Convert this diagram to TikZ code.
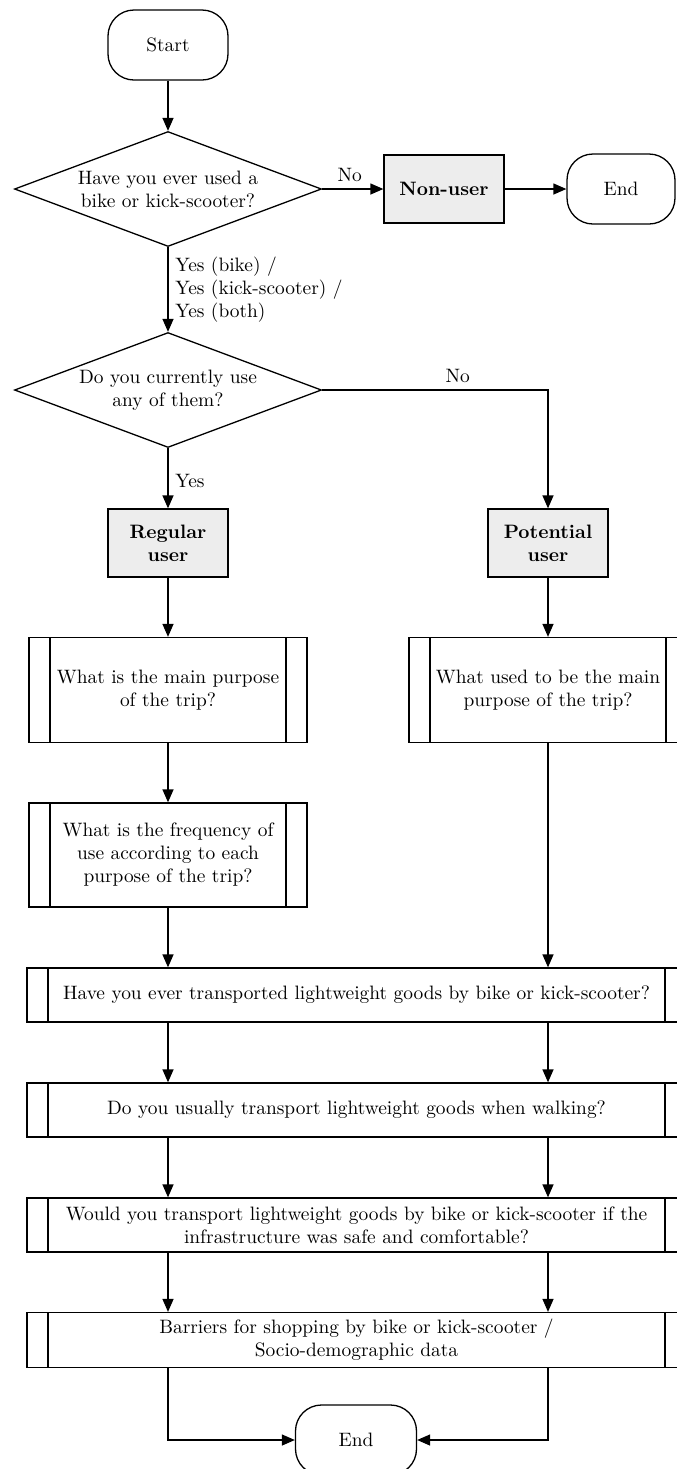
\documentclass[tikz,border=0pt]{standalone}
\usepackage{tikz}
\usetikzlibrary{shapes.geometric,arrows.meta}

\begin{document}
\begin{tikzpicture}
  [x=0.5pt,y=-0.5pt,line width=0.65pt,
   font=\fontsize{9.7}{11.5}\selectfont,
   every node/.style={align=center},
   term/.style={draw,rectangle,rounded corners=13pt,minimum width=60pt,minimum height=35pt},
   decision/.style={draw,diamond,aspect=2.67,inner sep=0pt,minimum width=153.5pt,minimum height=57.5pt},
   user/.style={draw,fill=black!7,font=\fontsize{9.7}{11.5}\selectfont\bfseries,minimum width=60pt,minimum height=34pt},
   question/.style={draw,minimum height=52.5pt,
     path picture={
       \draw ([xshift=10.5pt]path picture bounding box.north west) -- ([xshift=10.5pt]path picture bounding box.south west);
       \draw ([xshift=-10.5pt]path picture bounding box.north east) -- ([xshift=-10.5pt]path picture bounding box.south east);}},
   arr/.style={-{Triangle[length=6.5pt,width=5.5pt]}}]

  \useasboundingbox (0,0) rectangle (676,1469);

  % top part
  \node[term] (start) at (168,45) {Start};
  \node[decision] (d1) at (168,189) {Have you ever used a\\bike or kick-scooter?};
  \node[user] (nonuser) at (444,189) {Non-user};
  \node[term,minimum width=54pt] (end1) at (621,189) {End};
  \node[decision] (d2) at (168,390) {Do you currently use\\any of them?};
  \node[user] (regular) at (168,543) {Regular\\user};
  \node[user] (potential) at (548,543) {Potential\\user};

  % questions
  \node[question,minimum width=139pt] (purpose) at (168,690) {What is the main purpose\\of the trip?};
  \node[question,minimum width=139pt] (usedpurpose) at (548,690) {What used to be the main\\purpose of the trip?};
  \node[question,minimum width=139pt,minimum height=52pt] (freq) at (168,855) {What is the frequency of\\use according to each\\purpose of the trip?};
  \node[question,minimum width=329.5pt,minimum height=27pt] (goods) at (356.5,995) {Have you ever transported lightweight goods by bike or kick-scooter?};
  \node[question,minimum width=329.5pt,minimum height=27pt] (walking) at (356.5,1110) {Do you usually transport lightweight goods when walking?};
  \node[question,minimum width=329.5pt,minimum height=27pt] (safe) at (356.5,1225) {Would you transport lightweight goods by bike or kick-scooter if the\\infrastructure was safe and comfortable?};
  \node[question,minimum width=329.5pt,minimum height=27pt] (barriers) at (356.5,1340) {Barriers for shopping by bike or kick-scooter /\\Socio-demographic data};
  \node[term,minimum width=60.5pt] (end2) at (356,1440) {End};

  \foreach \from/\to in {start/d1,d2/regular,regular/purpose,purpose/freq,potential/usedpurpose,nonuser/end1}
    \draw[arr] (\from) -- (\to);

  \draw[arr] (d1) -- node[right,align=left]{Yes (bike) /\\Yes (kick-scooter) /\\Yes (both)} (d2);
  \draw[arr] (d1.east) -- node[above,pos=0.45]{No} (nonuser);
  \draw[arr] (d2.east) -| node[above,pos=0.3]{No} (potential);
  \path (d2.south) -- node[right,pos=0.55]{Yes} (regular.north);

  \draw[arr] (freq) -- (freq |- goods.north);
  \draw[arr] (usedpurpose) -- (usedpurpose |- goods.north);
  \foreach \from/\to in {goods/walking,walking/safe,safe/barriers}{
    \draw[arr] (\from.south -| freq) -- (\to.north -| freq);
    \draw[arr] (\from.south -| potential) -- (\to.north -| potential);
  }
  \draw[arr] (barriers.south -| freq) |- (end2);
  \draw[arr] (barriers.south -| potential) |- (end2);

\end{tikzpicture}
\end{document}
